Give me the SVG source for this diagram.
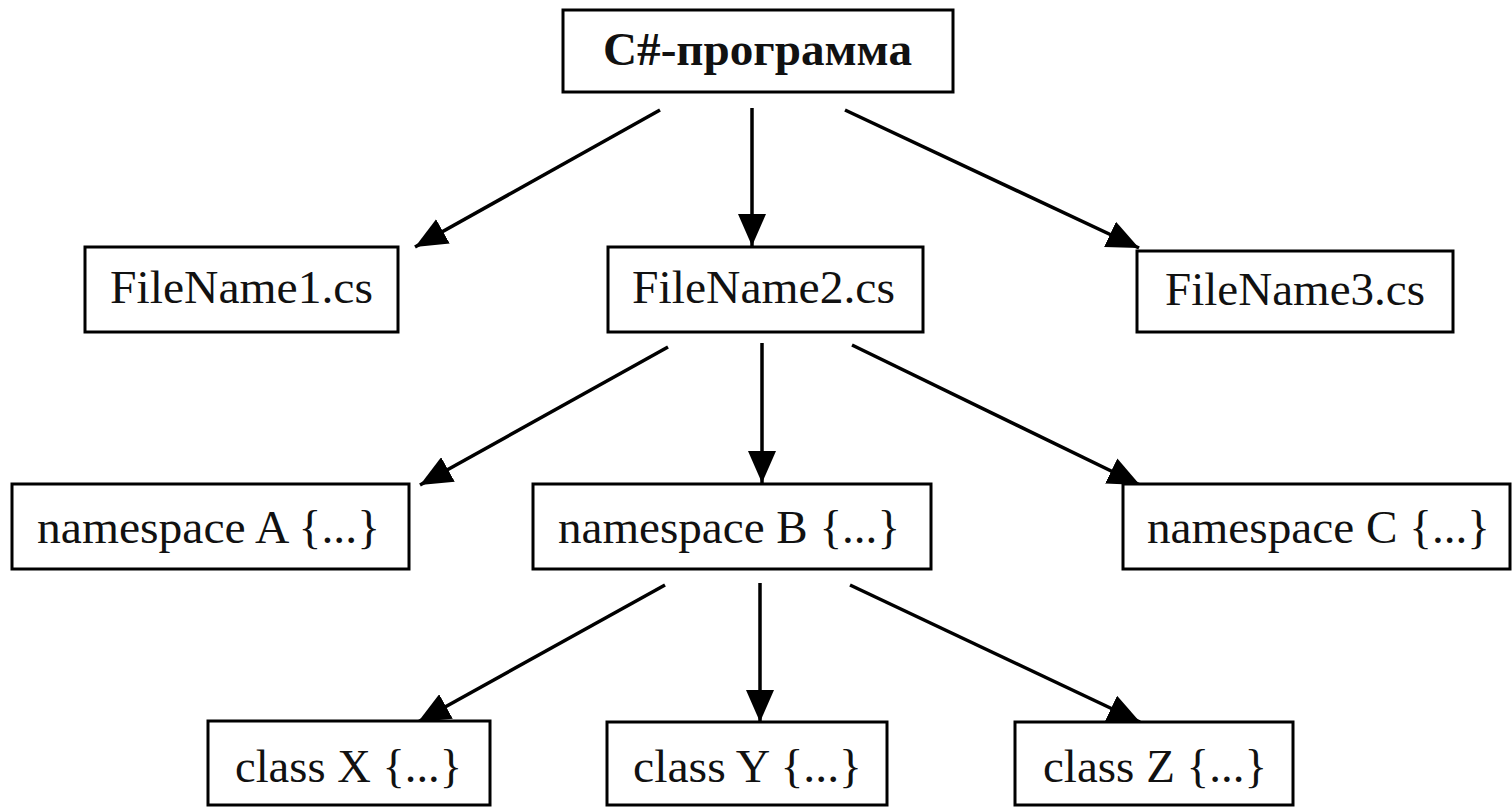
<svg xmlns="http://www.w3.org/2000/svg" width="1512" height="807" viewBox="0 0 1512 807">
<style>
.box{fill:#fff;stroke:#000;stroke-width:3}
.t{font-family:"Liberation Serif","Times New Roman",serif;font-size:46px;fill:#111;text-anchor:middle}
.b{font-weight:bold}
.c{stroke:#000;stroke-width:3.5;fill:none;marker-end:url(#ah)}
</style>
<defs>
<marker id="ah" markerUnits="userSpaceOnUse" markerWidth="34" markerHeight="28" refX="32" refY="14" orient="auto">
<path d="M0,0 L32,14 L0,28 Z" fill="#000"/>
</marker>
</defs>
<rect width="1512" height="807" fill="#fff"/>
<g id="connectors">
<path class="c" d="M660,110 L415,247"/>
<path class="c" d="M752,108 L752,246"/>
<path class="c" d="M845,110 L1139,248"/>
<path class="c" d="M668,347 L420,485"/>
<path class="c" d="M762,343 L762,483"/>
<path class="c" d="M852,345 L1140,485"/>
<path class="c" d="M665,585 L418,722"/>
<path class="c" d="M760,583 L760,722"/>
<path class="c" d="M850,585 L1140,722"/>
</g>
<g id="root"><rect class="box" x="563" y="10" width="390" height="82"/><text class="t b" x="757.5" y="65" textLength="309" lengthAdjust="spacingAndGlyphs">C#-программа</text></g>
<g id="file1"><rect class="box" x="85" y="247" width="313" height="85"/><text class="t" x="241.5" y="303" textLength="263" lengthAdjust="spacingAndGlyphs">FileName1.cs</text></g>
<g id="file2"><rect class="box" x="608" y="247" width="315" height="85"/><text class="t" x="763.5" y="303" textLength="263" lengthAdjust="spacingAndGlyphs">FileName2.cs</text></g>
<g id="file3"><rect class="box" x="1137" y="251" width="316" height="81"/><text class="t" x="1295" y="305" textLength="260" lengthAdjust="spacingAndGlyphs">FileName3.cs</text></g>
<g id="nsA"><rect class="box" x="12" y="484" width="397" height="85"/><text class="t" x="208.5" y="543" textLength="343" lengthAdjust="spacingAndGlyphs">namespace A {...}</text></g>
<g id="nsB"><rect class="box" x="533" y="484" width="398" height="85"/><text class="t" x="729" y="543" textLength="342" lengthAdjust="spacingAndGlyphs">namespace B {...}</text></g>
<g id="nsC"><rect class="box" x="1123" y="484" width="387" height="85"/><text class="t" x="1318.5" y="543" textLength="343" lengthAdjust="spacingAndGlyphs">namespace C {...}</text></g>
<g id="classX"><rect class="box" x="208" y="721" width="282" height="84"/><text class="t" x="348.5" y="782" textLength="227" lengthAdjust="spacingAndGlyphs">class X {...}</text></g>
<g id="classY"><rect class="box" x="607" y="722" width="280" height="83"/><text class="t" x="747.5" y="782" textLength="229" lengthAdjust="spacingAndGlyphs">class Y {...}</text></g>
<g id="classZ"><rect class="box" x="1015" y="722" width="278" height="83"/><text class="t" x="1155" y="782" textLength="224" lengthAdjust="spacingAndGlyphs">class Z {...}</text></g>
</svg>
